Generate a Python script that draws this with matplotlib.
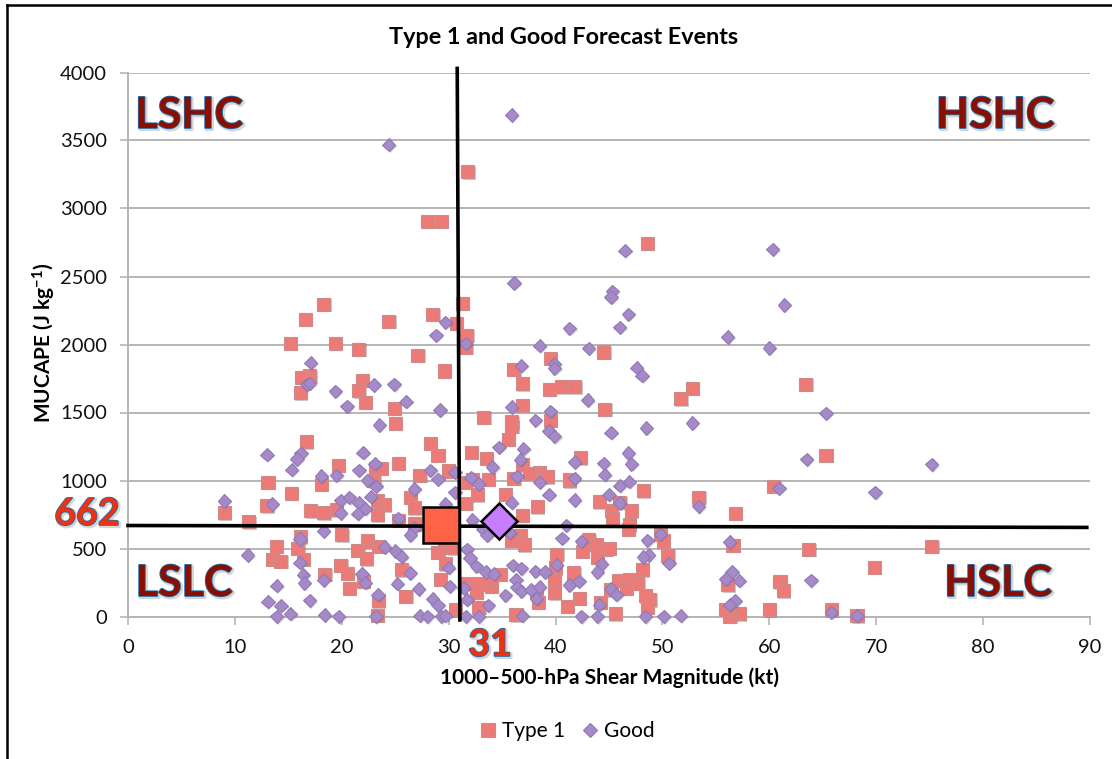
#!/usr/bin/env python3
# -*- coding: utf-8 -*-

from matplotlib import pyplot as plt
from matplotlib import patheffects as pe
from matplotlib.lines import Line2D

# Type 1 events
type1_shear = [
    15.2, 19.4, 21.6, 27.1, 29.6, 17.0, 16.2, 16.1, 21.9, 21.6, 22.2, 24.9, 25.0, 16.7, 28.3, 29.0,
    19.7, 25.3, 23.2, 23.7, 30.0, 27.3, 13.1, 18.1, 23.0, 15.3, 26.4, 13.0, 17.1, 18.3, 19.5, 23.3,
    24.0, 23.3, 26.8, 25.3, 26.8, 9.0, 11.3, 16.1, 20.0, 13.9, 15.9, 22.4, 21.5, 23.4, 13.5, 14.3,
    16.4, 22.3, 19.9, 20.5, 18.4, 25.6, 22.0, 20.7, 29.2, 29.0, 29.7, 29.6, 30.4, 26.0, 23.4, 23.3,
    30.6, 31.8, 28.0, 29.3, 31.3, 18.3, 28.5, 16.6, 24.4, 30.7, 31.7, 31.6, 48.6,
    39.5, 44.5, 36.1, 36.9, 39.4, 40.6, 41.8, 51.7, 52.8, 36.9, 44.6, 33.3, 35.9, 35.9, 39.5, 35.6,
    32.1, 33.5, 42.3, 36.9, 38.5, 37.6, 39.2, 36.1, 33.7, 32.2, 41.3, 41.3, 31.6, 32.7, 31.6, 35.3,
    48.2, 53.4, 60.4, 44.1, 46.0, 45.2, 47.1, 45.3, 38.3, 36.9, 56.8, 46.9, 46.8, 36.7, 35.9, 37.1,
    43.1, 43.8, 42.5, 44.7, 45.0, 43.9, 40.1, 49.8, 50.1, 50.5, 56.6, 34.8, 48.1, 41.7, 40.0, 39.9,
    39.9, 31.8, 32.8, 34.0, 32.6, 34.0, 45.9, 46.9, 47.7, 46.6, 45.1, 48.4, 48.8, 48.6, 42.2, 38.2,
    38.4, 41.1, 44.2, 45.6, 36.3, 32.8, 56.1, 61.0, 61.3, 57.2, 56.3, 55.9, 60.0, 63.7, 63.4, 65.3,
    69.8, 75.2, 65.8, 68.2,
]
type1_cape = [
    2009, 2009, 1965, 1921, 1805, 1770, 1760, 1645, 1738, 1660, 1575, 1530, 1420, 1285, 1275, 1185,
    1110, 1128, 1090, 1090, 1070, 1040, 985, 970, 998, 905, 875, 815, 778, 762, 785, 850,
    822, 748, 800, 708, 680, 762, 696, 585, 600, 518, 500, 555, 486, 516, 420, 405,
    420, 425, 378, 318, 310, 343, 260, 208, 274, 470, 388, 518, 506, 148, 116, 7,
    50, 3270, 2907, 2907, 2303, 2296, 2223, 2186, 2171, 2156, 2068, 1980, 2745,
    1900, 1945, 1817, 1712, 1670, 1688, 1688, 1602, 1676, 1552, 1525, 1464, 1398, 1430, 1442, 1302,
    1208, 1163, 1168, 1116, 1060, 1052, 1028, 1018, 1008, 1008, 998, 1010, 986, 894, 831, 900,
    925, 875, 956, 843, 840, 777, 777, 717, 806, 744, 760, 673, 641, 599, 562, 526,
    565, 526, 480, 494, 500, 434, 456, 604, 555, 451, 522, 309, 343, 320, 358, 264,
    173, 246, 239, 222, 180, 271, 264, 271, 246, 209, 197, 153, 124, 69, 135, 173,
    105, 74, 105, 20, 12, 69, 234, 254, 190, 20, 0, 54, 50, 493, 1708, 1185,
    360, 515, 50, 5,
]

# Good events
good_shear = [
    17.1, 16.7, 19.4, 20.5, 23.0, 24.9, 26.0, 29.2, 23.5, 13.0, 16.2, 15.8, 15.3, 22.0, 23.1, 21.6,
    18.1, 19.5, 22.4, 23.2, 28.3, 29.0, 30.6, 26.8, 30.6, 9.0, 13.5, 19.9, 20.7, 21.6, 22.7, 22.2,
    19.9, 21.5, 25.3, 29.7, 18.3, 26.8, 26.4, 16.1, 11.2, 24.0, 25.0, 25.6, 16.1, 30.0, 26.4, 16.4,
    16.5, 18.3, 21.9, 22.2, 13.9, 25.2, 27.2, 30.1, 13.1, 14.3, 13.9, 15.2, 17.0, 18.4, 19.7, 23.4,
    23.2, 28.5, 29.0, 27.3, 28.0, 29.3, 29.7,
    31.6, 38.5, 43.1, 56.1, 60.0, 36.8, 39.9, 39.9, 47.6, 48.1, 43.0, 35.9, 39.5, 38.1, 45.2, 48.5,
    52.8, 39.4, 39.9, 46.8, 47.1, 34.7, 37.0, 36.7, 34.1, 41.8, 44.5, 44.6, 36.4, 32.1, 32.8, 38.5,
    41.8, 46.9, 46.0, 45.0, 46.0, 60.9, 39.4, 35.9, 41.8, 53.4, 32.2, 33.2, 33.6, 35.7, 41.0, 40.6,
    42.4, 49.8, 48.6, 56.3, 48.7, 48.2, 44.3, 43.9, 31.7, 32.0, 32.6, 33.5, 34.2, 36.0, 36.8, 40.1,
    38.1, 39.0, 50.6, 36.3, 36.4, 36.8, 37.7, 38.5, 38.2, 35.3, 33.7, 31.4, 31.7, 41.3, 42.2, 45.2,
    45.7, 44.1, 56.5, 55.9, 57.2, 56.8, 56.3, 31.6, 32.8, 36.9, 42.4, 43.9, 48.4, 50.1, 51.7,
    35.9, 24.4, 36.1, 46.5, 60.3, 61.4, 45.3, 45.2, 46.8, 46.0, 41.3, 28.8, 29.7, 17.0, 65.3, 63.5,
    69.9, 75.2, 63.9, 65.8, 68.2,
]
good_cape = [
    1867, 1706, 1656, 1545, 1703, 1706, 1580, 1518, 1408, 1190, 1200, 1158, 1080, 1205, 1124, 1075,
    1033, 1038, 1002, 957, 1075, 1008, 1060, 938, 912, 850, 826, 855, 875, 834, 880, 794,
    762, 755, 722, 826, 628, 654, 600, 570, 451, 510, 482, 439, 395, 358, 321, 308,
    246, 268, 313, 249, 227, 242, 202, 222, 108, 79, 0, 20, 118, 12, 0, 160,
    0, 128, 81, 5, 0, 0, 7,
    2009, 1992, 1972, 2055, 1975, 1845, 1857, 1825, 1830, 1770, 1591, 1541, 1509, 1443, 1351, 1386,
    1422, 1363, 1324, 1201, 1122, 1245, 1233, 1154, 1098, 1135, 1127, 1044, 1031, 1021, 975, 987,
    1017, 992, 962, 895, 834, 942, 895, 838, 856, 809, 710, 642, 597, 617, 671, 575,
    553, 605, 560, 548, 452, 437, 387, 326, 494, 431, 370, 328, 313, 377, 353, 382,
    333, 326, 392, 272, 215, 185, 198, 217, 130, 155, 81, 210, 123, 232, 259, 203,
    160, 86, 328, 276, 264, 116, 86, 0, 0, 7, 0, 0, 0, 0, 7,
    3687, 3469, 2451, 2690, 2700, 2290, 2392, 2348, 2222, 2127, 2120, 2068, 2164, 1715, 1494, 1155,
    912, 1118, 265, 30, 7,
]

# Threshold lines and the two composite means
THRESH_X = [30.8, 31.05]
THRESH_X_Y = [4030, -25]
THRESH_Y_X = [0, 89.7]
THRESH_Y = [669, 655]
MEAN_TYPE1 = (29.3, 670)
MEAN_GOOD = (34.7, 700)

x_ticks = list(range(0, 100, 10))
y_ticks = list(range(0, 4500, 500))

plt.rcParams['font.family'] = ['Lato', 'DejaVu Sans']
plt.rcParams['mathtext.fontset'] = 'custom'
plt.rcParams['mathtext.rm'] = 'Lato'
plt.rcParams['mathtext.bf'] = 'Lato:bold'


def big_label(fig, x, y, text, color, size):
    fig.text(x / 1112, 1 - y / 759, text, color=color, fontsize=size, fontweight='bold',
             ha='center', va='center', zorder=20,
             path_effects=[pe.SimpleLineShadow(offset=(1, -1), linewidth=2.5, alpha=0.2, shadow_color='#333333'),
                           pe.withStroke(linewidth=1.2, foreground='#1f6db0')])


def main():
    fig = plt.figure(figsize=(11.12, 7.59), dpi=100)
    ax = fig.add_axes([128 / 1112, 1 - 616.5 / 759, 962 / 1112, 544 / 759])

    shadow = [pe.SimplePatchShadow(offset=(1, -1), alpha=0.3, shadow_rgbFace='#555555'), pe.Normal()]

    ax.plot(type1_shear, type1_cape, ls='none', marker='s', ms=9.4, mfc='#ec7b78', mec='#cf8a8a', mew=0.8,
            clip_on=False, zorder=3, path_effects=shadow)
    ax.plot(good_shear, good_cape, ls='none', marker='D', ms=6.8, mfc='#a68ac8', mec='#8f78b8', mew=0.8,
            clip_on=False, zorder=4, path_effects=shadow)

    ax.plot(THRESH_Y_X, THRESH_Y, color='black', lw=2.6, clip_on=False, zorder=5)
    ax.plot(THRESH_X, THRESH_X_Y, color='black', lw=2.6, clip_on=False, zorder=5)
    ax.plot(*MEAN_TYPE1, marker='s', ms=26, mfc='#ff6347', mec='black', mew=1.8, clip_on=False, zorder=6)
    ax.plot(*MEAN_GOOD, marker='D', ms=18.5, mfc='#c77dff', mec='black', mew=1.8, clip_on=False, zorder=6)

    ax.set_xlim(0, 90)
    ax.set_ylim(0, 4000)
    ax.set_xticks(x_ticks)
    ax.set_yticks(y_ticks)
    ax.tick_params(axis='both', length=6, width=1.2, color='#b5b5b5', labelsize=14.5, labelcolor='#111111')
    ax.tick_params(axis='x', pad=10)
    ax.tick_params(axis='y', pad=9)
    ax.grid(axis='y', color='#b5b5b5', lw=1.4)
    ax.set_axisbelow(True)
    for side in ['top', 'right']:
        ax.spines[side].set_visible(False)
    for side in ['left', 'bottom']:
        ax.spines[side].set_color('#b5b5b5')
        ax.spines[side].set_linewidth(1.4)

    fig.text(564 / 1112, 1 - 37 / 759, "Type 1 and Good Forecast Events", fontsize=16.8, fontweight='bold',
             ha='center', va='center')
    fig.text(609 / 1112, 1 - 678 / 759, "1000\u2013500-hPa Shear Magnitude (kt)", fontsize=15, fontweight='bold',
             ha='center', va='center')
    fig.text(44 / 1112, 1 - 343 / 759, r"MUCAPE (J kg$\mathbf{^{-1}}$)", fontsize=15, fontweight='bold',
             rotation=90, ha='center', va='center')

    dark_red = '#8b0f00'
    big_label(fig, 189, 115, "LSHC", dark_red, 31)
    big_label(fig, 995, 115, "HSHC", dark_red, 31)
    big_label(fig, 184, 583, "LSLC", dark_red, 31)
    big_label(fig, 998, 583, "HSLC", dark_red, 31)
    big_label(fig, 87, 514, "662", '#f0300f', 27)
    big_label(fig, 490, 645, "31", '#f0300f', 27)

    handles = [Line2D([], [], ls='none', marker='s', ms=9.4, mfc='#ec7b78', mec='#cf8a8a', mew=0.8),
               Line2D([], [], ls='none', marker='D', ms=6.8, mfc='#a68ac8', mec='#8f78b8', mew=0.8)]
    fig.legend(handles, ["Type 1", "Good"], loc='center', bbox_to_anchor=(565 / 1112, 1 - 731 / 759), ncol=2,
               frameon=False, fontsize=15, handletextpad=0.05, columnspacing=0.6, handlelength=1.2)

    # frame of the pasted slide, only the top and the left edge show
    fig.add_artist(Line2D([6.5 / 1112, 1], [1 - 4.5 / 759, 1 - 4.5 / 759], color='black', lw=1.8))
    fig.add_artist(Line2D([6.5 / 1112, 6.5 / 1112], [0, 1 - 4.5 / 759], color='black', lw=1.8))

    fig.savefig("out.png", dpi=100)
    plt.close()


if __name__ == "__main__":
    main()
